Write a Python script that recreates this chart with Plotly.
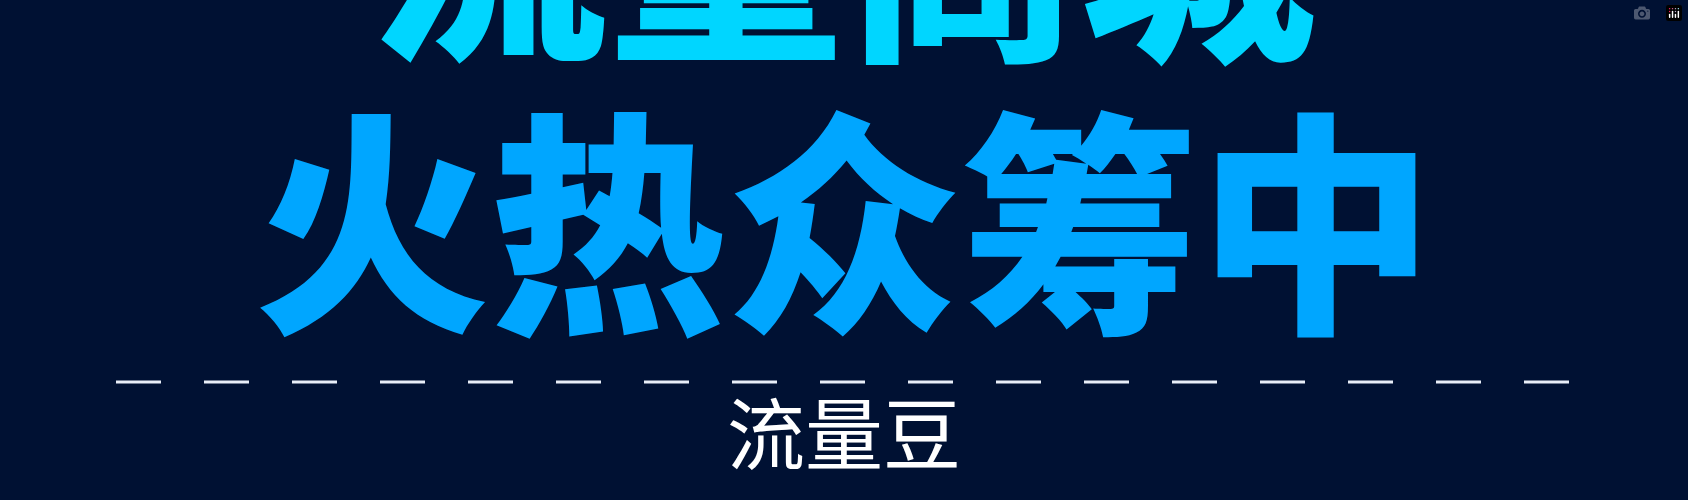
import plotly.graph_objects as go

# poster texts
titles = ["流量商城", "火热众筹中"]
title_colors = ["#00d6ff", "#00a6ff"]
title_y = [-60, 212]
subtitle = "流量豆"
divider_x = [116, 1572]
divider_y = [382, 382]

fig = go.Figure()

fig.add_trace(go.Scatter(
    x=divider_x, y=divider_y, mode="lines",
    line=dict(color="#e8eef8", width=3, dash="45px,43px"),
    hoverinfo="skip", showlegend=False,
))

for text, color, y in zip(titles, title_colors, title_y):
    fig.add_annotation(
        x=844 / 1688, y=1 - y / 500, xref="paper", yref="paper", text=text,
        showarrow=False, xanchor="center", yanchor="middle",
        font=dict(family="Noto Sans CJK SC", size=236, color=color, weight=900),
    )

fig.add_annotation(
    x=844, y=430, xref="x", yref="y", text=subtitle, showarrow=False,
    xanchor="center", yanchor="middle",
    font=dict(family="Noto Sans CJK SC", size=78, color="#ffffff"),
)

fig.update_layout(
    width=1688, height=500,
    margin=dict(l=0, r=0, t=0, b=0),
    paper_bgcolor="#001133", plot_bgcolor="#001133",
    xaxis=dict(range=[0, 1688], visible=False, fixedrange=True),
    yaxis=dict(range=[500, 0], visible=False, fixedrange=True),
)

fig.write_html(
    "out.html",
    post_script="document.body.style.margin='0';document.body.style.overflow='hidden';",
)
